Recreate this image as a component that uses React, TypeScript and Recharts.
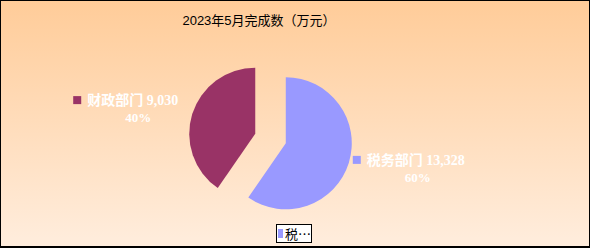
import React from 'react';
import { PieChart, Pie, Cell, Sector, Legend } from 'recharts';

const names = ['税务部门', '财政部门'];
const values = [13328, 9030];
const colors = ['#9999FF', '#993366'];
const title = '2023年5月完成数（万元）';

const data = names.map((name, i) => ({ name, value: values[i] }));

const RAD = Math.PI / 180;
const EXPLODE = 16;
const CJK = '"Liberation Serif", "Noto Sans CJK SC", serif';

const ExplodedSector = (props: any) => {
  const { cx, cy, midAngle } = props;
  const dx = EXPLODE * Math.cos(-midAngle * RAD);
  const dy = EXPLODE * Math.sin(-midAngle * RAD);
  return <Sector {...props} cx={cx + dx} cy={cy + dy} stroke="none" />;
};

const renderLabel = (props: any) => {
  const { cx, cy, midAngle, outerRadius, name, value, percent, index } = props;
  const r = outerRadius + EXPLODE;
  const ax = cx + r * Math.cos(-midAngle * RAD);
  const ay = cy + r * Math.sin(-midAngle * RAD);
  const right = ax > cx;
  const text = `${name} ${value.toLocaleString('en-US')}`;
  const textW = 102;
  const sqX = right ? ax + 4 : ax - 119;
  const y1 = right ? ay - 3 : ay - 14;
  const tx = sqX + 14;
  return (
    <g key={`lbl-${index}`}>
      <rect x={sqX} y={y1 - 4} width={8} height={8} fill={colors[index]} />
      <text x={tx} y={y1 + 5} fill="#fff" fontSize={14} fontWeight="bold" fontFamily={CJK}>
        {text}
      </text>
      <text x={tx + textW / 2} y={y1 + 22} fill="#fff" fontSize={13} fontWeight="bold" fontFamily={CJK} textAnchor="middle">
        {`${Math.round(percent * 100)}%`}
      </text>
    </g>
  );
};

const LegendBox = () => (
  <div
    style={{
      display: 'flex',
      alignItems: 'center',
      width: 34,
      height: 17,
      border: '1px solid #000',
      background: '#fff',
      fontFamily: '"Noto Sans CJK SC", sans-serif',
      fontSize: 13,
      lineHeight: '17px',
      overflow: 'hidden',
      boxSizing: 'content-box',
    }}
  >
    <span style={{ display: 'inline-block', width: 8, height: 9, background: colors[0], marginLeft: 1, marginRight: 2 }} />
    <span>税…</span>
  </div>
);

export default function App() {
  return (
    <div
      style={{
        position: 'absolute',
        left: 0,
        top: 0,
        width: 590,
        height: 248,
        boxSizing: 'border-box',
        border: '1px solid #000',
        borderBottomWidth: 2,
        background: 'linear-gradient(to bottom, #FFCC99, #FFEDDD)',
      }}
    >
      <div
        style={{
          position: 'absolute',
          left: 0,
          top: 9,
          width: 516,
          textAlign: 'center',
          fontFamily: '"Liberation Sans", "Noto Sans CJK SC", sans-serif',
          fontSize: 13,
          color: '#000',
        }}
      >
        {title}
      </div>
      <PieChart
        width={588}
        height={245}
        margin={{ top: 0, right: 0, bottom: 0, left: 0 }}
        style={{ position: 'absolute', left: -1, top: -1 }}
      >
        <Pie
          data={data}
          dataKey="value"
          nameKey="name"
          cx={270.5}
          cy={138.5}
          outerRadius={66}
          startAngle={90}
          endAngle={-270}
          stroke="none"
          shape={ExplodedSector}
          label={renderLabel}
          labelLine={false}
          isAnimationActive={false}
        >
          {data.map((d, i) => (
            <Cell key={d.name} fill={colors[i]} />
          ))}
        </Pie>
        <Legend
          content={() => <LegendBox />}
          wrapperStyle={{ position: 'absolute', left: 276, top: 224, width: 36 }}
        />
      </PieChart>
    </div>
  );
}
